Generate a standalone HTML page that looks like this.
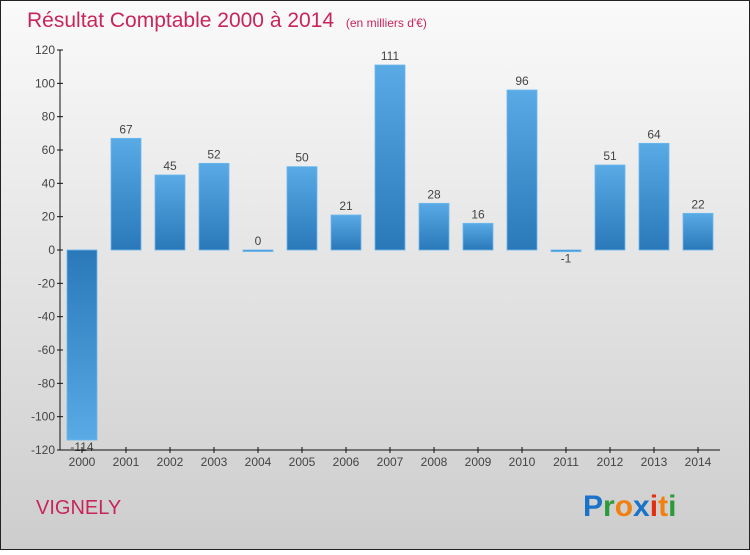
<!DOCTYPE html>
<html><head><meta charset="utf-8"><style>
html,body{margin:0;padding:0}
body{width:750px;height:550px;overflow:hidden;font-family:"Liberation Sans",sans-serif}
</style></head><body>
<svg id="chart" width="750" height="550" xmlns="http://www.w3.org/2000/svg">
<defs>
<linearGradient id="bg" x1="0" y1="0" x2="0" y2="1"><stop offset="0" stop-color="#fafafa"/><stop offset="1" stop-color="#cdcdcd"/></linearGradient>
<linearGradient id="barPos" x1="0" y1="0" x2="0" y2="1"><stop offset="0" stop-color="#5aaae6"/><stop offset="1" stop-color="#2a78b8"/></linearGradient>
<linearGradient id="barNeg" x1="0" y1="0" x2="0" y2="1"><stop offset="0" stop-color="#2a78b8"/><stop offset="1" stop-color="#5aaae6"/></linearGradient>
</defs>
<rect x="0.5" y="0.5" width="749" height="549" fill="url(#bg)" stroke="#222" stroke-width="1"/>
<text x="27" y="27" font-size="21" fill="#c8265a">Résultat Comptable 2000 à 2014 <tspan font-size="12" dx="6">(en milliers d'€)</tspan></text>
<g id="plot"></g>
<text x="36" y="514" font-size="20" fill="#c8265a">VIGNELY</text>
<g font-size="30" font-weight="bold" font-family="'Liberation Sans',sans-serif">
<text x="583" y="516"><tspan fill="#1a73c8">P</tspan><tspan fill="#2a9a3a">r</tspan><tspan fill="#f08010">o</tspan><tspan fill="#1a73c8">x</tspan><tspan fill="#e03010">i</tspan><tspan fill="#f08010">t</tspan><tspan fill="#2a9a3a">i</tspan></text>
</g>
</svg>
<script>
const categories=["2000","2001","2002","2003","2004","2005","2006","2007","2008","2009","2010","2011","2012","2013","2014"];
const values=[-114,67,45,52,0,50,21,111,28,16,96,-1,51,64,22];
const yTicks=[-120,-100,-80,-60,-40,-20,0,20,40,60,80,100,120];
const NS="http://www.w3.org/2000/svg";
const plot=document.getElementById('plot');
const y0=250,pxPer=200/120;
function yScale(v){return y0-v*pxPer;}
function xScale(i){return 82+i*44;}
function mk(tag,attrs){const e=document.createElementNS(NS,tag);for(const k in attrs)e.setAttribute(k,attrs[k]);plot.appendChild(e);return e;}
// bars
values.forEach((v,i)=>{
 const top=Math.min(yScale(v),yScale(0)),h=Math.max(Math.abs(yScale(v)-yScale(0)),1.5);
 const r=mk('rect',{x:xScale(i)-15,y:top,width:30,height:h,fill:v<0?'url(#barNeg)':'url(#barPos)',stroke:'#6ab8ee','stroke-width':0.8});
 
 
 const ly=v<0?yScale(v)+11:yScale(v)-5;
 const t=mk('text',{x:xScale(i),y:ly,'text-anchor':'middle','font-size':12,fill:'#444'});
 t.textContent=String(v);
 
 
});
// y axis
const ya=mk('line',{x1:60,y1:yScale(120),x2:60,y2:yScale(-120),stroke:'#111','stroke-width':1});


yTicks.forEach(v=>{
 mk('line',{x1:57,x2:63,y1:yScale(v),y2:yScale(v),stroke:'#111'});
 const t=mk('text',{x:55,y:yScale(v)+4,'text-anchor':'end','font-size':12,fill:'#444'});
 t.textContent=String(v);
 
 
});
// x axis
const xa=mk('line',{x1:60,y1:yScale(-120),x2:720,y2:yScale(-120),stroke:'#111','stroke-width':1});


categories.forEach((c,i)=>{
 mk('line',{x1:xScale(i),x2:xScale(i),y1:yScale(-120)-3,y2:yScale(-120)+3,stroke:'#111'});
 const t=mk('text',{x:xScale(i),y:yScale(-120)+16,'text-anchor':'middle','font-size':12,fill:'#444'});
 t.textContent=c;
 
 
});
</script>
</body></html>
